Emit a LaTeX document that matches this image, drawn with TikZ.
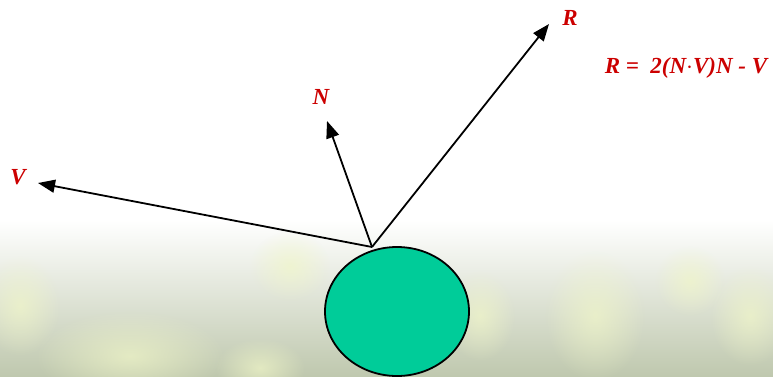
\documentclass[tikz,border=0pt]{standalone}
\usepackage{fontspec}
\setmainfont{Liberation Serif}
\usetikzlibrary{arrows.meta,shapes.geometric,fadings}
\definecolor{Ruby}{HTML}{CC0000}
\definecolor{Jade}{HTML}{00CC99}
\definecolor{Moss}{HTML}{BFC8AE}
\definecolor{Lime}{HTML}{F0F6C8}
\tikzfading[name=haze,inner color=transparent!0,outer color=transparent!100]
\tikzset{
 ray/.style={-{Triangle[length=17pt,width=13pt]},line width=1.8pt,draw=black},
 tag/.style={text=Ruby,font=\fontsize{23}{26}\selectfont\bfseries\itshape,inner sep=0pt},
 blob/.style={fill=Lime,path fading=haze,opacity=.7}
}
\begin{document}
\begin{tikzpicture}[x=1pt,y=1pt]
\useasboundingbox (0,0) rectangle (773,376);
\fill[white] (0,0) rectangle (773,376);
% blurred backdrop at the bottom
\shade[top color=white,bottom color=Moss] (0,0) rectangle (773,156);
\foreach \x/\y/\a/\b in {130/20/95/45,260/8/45/30,290/110/40/35,595/60/50/65,690/95/35/35,480/60/35/45,750/60/40/50,20/70/40/50} {
 \fill[blob] (\x,\y) ellipse [x radius=\a, y radius=\b];
}
% the ball and the rays
\node[ellipse,draw,line width=1.8pt,fill=Jade,minimum width=144pt,minimum height=129pt,inner sep=0pt] (ball) at (397,64.5) {};
\coordinate (hit) at (372,129);
\coordinate (vtip) at (38,193);
\coordinate (ntip) at (327,255);
\coordinate (rtip) at (549,352);
\draw[ray] (hit) -- (vtip);
\draw[ray] (hit) -- (ntip);
\draw[ray] (hit) -- (rtip);
\node[tag] (vlab) at (18,199) {V};
\node[tag] (nlab) at (321,279) {N};
\node[tag] (rlab) at (570,358) {R};
\node[tag] (rule) at (686,308) {R =\ \ 2(N$\cdot$V)N - V};
\end{tikzpicture}
\end{document}
